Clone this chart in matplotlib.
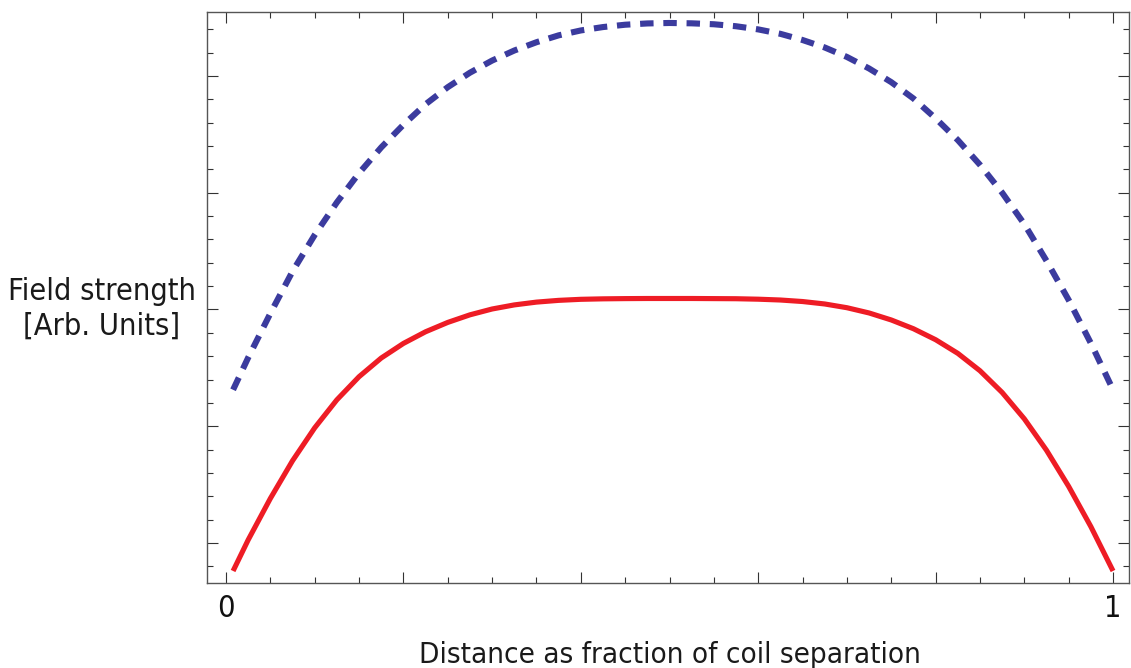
import matplotlib
matplotlib.use("Agg")
import matplotlib.pyplot as plt
from matplotlib.ticker import MultipleLocator

# distance along the axis, as fraction of coil separation
x_pos = [0.008, 0.025, 0.05, 0.075, 0.1, 0.125, 0.15, 0.175, 0.2, 0.225, 0.25, 0.275, 0.3,
         0.325, 0.35, 0.375, 0.4, 0.425, 0.45, 0.475, 0.5, 0.525, 0.55, 0.575, 0.6, 0.625,
         0.65, 0.675, 0.7, 0.725, 0.75, 0.775, 0.8, 0.825, 0.85, 0.875, 0.9, 0.925, 0.95,
         0.975, 1.0]

# solid red curve (arb. units)
field_red = [0.760, 1.026, 1.381, 1.704, 1.986, 2.226, 2.424, 2.584, 2.709, 2.809, 2.889,
             2.954, 3.004, 3.039, 3.063, 3.078, 3.087, 3.091, 3.093, 3.094, 3.094, 3.094,
             3.093, 3.092, 3.088, 3.081, 3.068, 3.047, 3.015, 2.970, 2.910, 2.835, 2.741,
             2.624, 2.475, 2.289, 2.063, 1.794, 1.484, 1.140, 0.760]

# dashed blue curve (arb. units)
field_blue = [2.312, 2.587, 2.966, 3.326, 3.638, 3.917, 4.168, 4.388, 4.582, 4.758, 4.904,
              5.028, 5.132, 5.218, 5.289, 5.348, 5.390, 5.419, 5.439, 5.450, 5.454, 5.451,
              5.443, 5.426, 5.399, 5.361, 5.308, 5.244, 5.163, 5.064, 4.947, 4.807, 4.637,
              4.451, 4.239, 4.000, 3.731, 3.417, 3.081, 2.711, 2.312]

x_tick_labels = {0.0: "0", 1.0: "1"}

FONT = dict(family="DejaVu Sans", stretch="condensed")

fig = plt.figure(figsize=(11.31, 6.68), dpi=100)
ax = fig.add_axes([207 / 1131, 85 / 668, 922 / 1131, 571 / 668])

ax.plot(x_pos, field_blue, color="#3b3b9e", lw=4.4, dashes=(2.2, 1.6),
        dash_capstyle="butt", dash_joinstyle="round")
ax.plot(x_pos, field_red, color="#ee1c25", lw=3.7, solid_capstyle="butt",
        solid_joinstyle="round")

# ticks: inward on all four sides, only 0 and 1 labelled
ax.xaxis.set_major_locator(MultipleLocator(0.2))
ax.xaxis.set_minor_locator(MultipleLocator(0.05))
ax.yaxis.set_major_locator(MultipleLocator(1))
ax.yaxis.set_minor_locator(MultipleLocator(0.2))
ticks = ax.get_xticks()
ax.set_xticks(ticks)
ax.set_xticklabels([x_tick_labels.get(round(t, 3), "") for t in ticks])
ax.set_xlim(-0.0214, 1.018)
ax.set_ylim(0.657, 5.548)
ax.set_yticklabels([])
ax.tick_params(which="both", direction="in", top=True, right=True, color="#333333",
               width=0.8)
ax.tick_params(which="major", length=8)
ax.tick_params(which="minor", length=4.5)
ax.tick_params(axis="x", which="major", pad=8, labelsize=22, labelcolor="#111111")
for lab in ax.get_xticklabels():
    lab.set_fontfamily(FONT["family"])
    lab.set_fontstretch(FONT["stretch"])

for sp in ax.spines.values():
    sp.set_color("#555555")
    sp.set_linewidth(1.0)

fig.text(670 / 1131, 1 - 663 / 668, "Distance as fraction of coil separation",
         ha="center", va="baseline", fontsize=21.2, color="#1a1a1a", **FONT)
fig.text(102 / 1131, 1 - 309 / 668, "Field strength\n[Arb. Units]",
         ha="center", va="center", fontsize=22, color="#1a1a1a",
         linespacing=1.25, multialignment="center", **FONT)

plt.savefig("out.png", dpi=100)
